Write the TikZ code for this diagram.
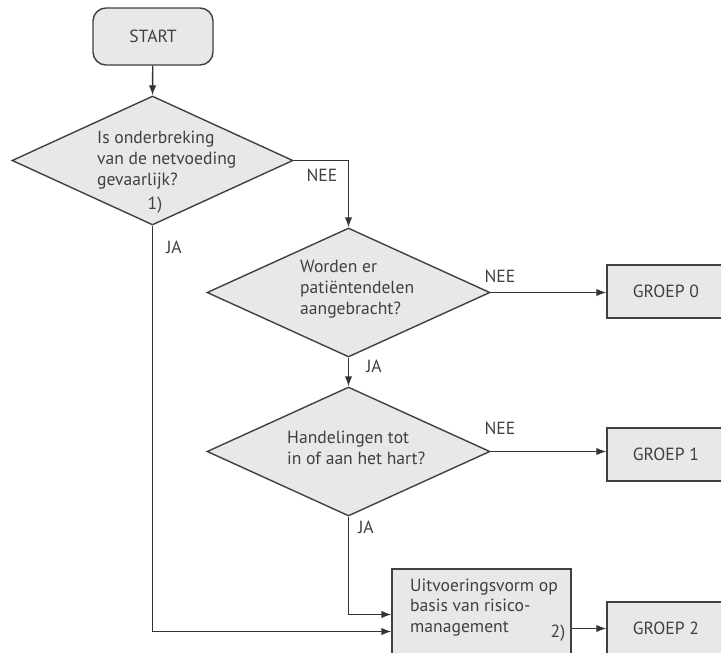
\documentclass[tikz,border=0pt]{standalone}
\usepackage{fontspec}
\setmainfont{PT Sans}
\usetikzlibrary{shapes.geometric,arrows.meta}

\begin{document}
\begin{tikzpicture}[x=1pt,y=-1pt,
        font=\fontsize{17.6}{20.8}\selectfont,
        box/.style={draw=black!75, line width=1.4pt, fill=black!9, text=black!75, inner sep=0pt},
        dia/.style={box, diamond, minimum width=283pt, minimum height=129pt},
        txt/.style={text=black!75, inner sep=0pt, align=left, anchor=west},
        lbl/.style={text=black!75, inner sep=0pt},
        arr/.style={draw=black!80, line width=1.4pt, -{Latex[length=10pt,width=7.5pt]}}]
        \useasboundingbox (0, 0) rectangle (721, 653);

        \node[box, rounded corners=13pt, minimum width=120pt, minimum height=57pt] (start) at (153, 36.5) {START};

        \node[dia, minimum width=281pt] (q1) at (152.5, 160.5) {};
        \node[dia] (q2) at (348.5, 292.5) {};
        \node[dia] (q3) at (348.5, 451.5) {};

        \node[box, minimum width=118pt, minimum height=53pt] (g0) at (666, 291.5) {GROEP 0};
        \node[box, minimum width=118pt, minimum height=53pt] (g1) at (666, 454.5) {GROEP 1};
        \node[box, minimum width=118pt, minimum height=53pt] (g2) at (666, 628.5) {GROEP 2};
        \node[box, minimum width=179pt, minimum height=91pt] (risk) at (481.5, 614.5) {};

        \node[txt] (q1t) at (97, 160) {Is onderbreking\\van de netvoeding\\gevaarlijk?};
        \node[lbl] (n1) at (155, 205) {1)};
        \node[txt] (q2t) at (300, 289) {Worden er\\patiëntendelen\\aangebracht?};
        \node[txt] (q3t) at (287, 447.5) {Handelingen tot\\in of aan het hart?};
        \node[txt] (riskt) at (410, 607.5) {Uitvoeringsvorm op\\basis van risico-\\management};
        \node[lbl] (n2) at (558, 633) {2)};

        \node[lbl] (nee1) at (322, 175) {NEE};
        \node[lbl] (ja1) at (174, 247) {JA};
        \node[lbl] (nee2) at (500, 276) {NEE};
        \node[lbl] (ja2) at (374, 366) {JA};
        \node[lbl] (nee3) at (500, 428) {NEE};
        \node[lbl] (ja3) at (366, 527) {JA};

        \draw[arr] (start) -- (q1.north);
        \draw[arr] (q1.east) -| (q2.north);
        \draw[arr] (q2.east) -- (q2.east -| g0.west);
        \draw[arr] (q2.south) -- (q3.north);
        \draw[arr] (q3.east) -- (q3.east -| g1.west);

        % both JA lines end on the left side of the risk box
        \draw[arr] (q3.south) |- (risk.west);
        \draw[arr] (q1.south) |- ([yshift=-17pt]risk.west);
        \draw[arr] (risk.east |- g2.west) -- (g2.west);
    \end{tikzpicture}
\end{document}
